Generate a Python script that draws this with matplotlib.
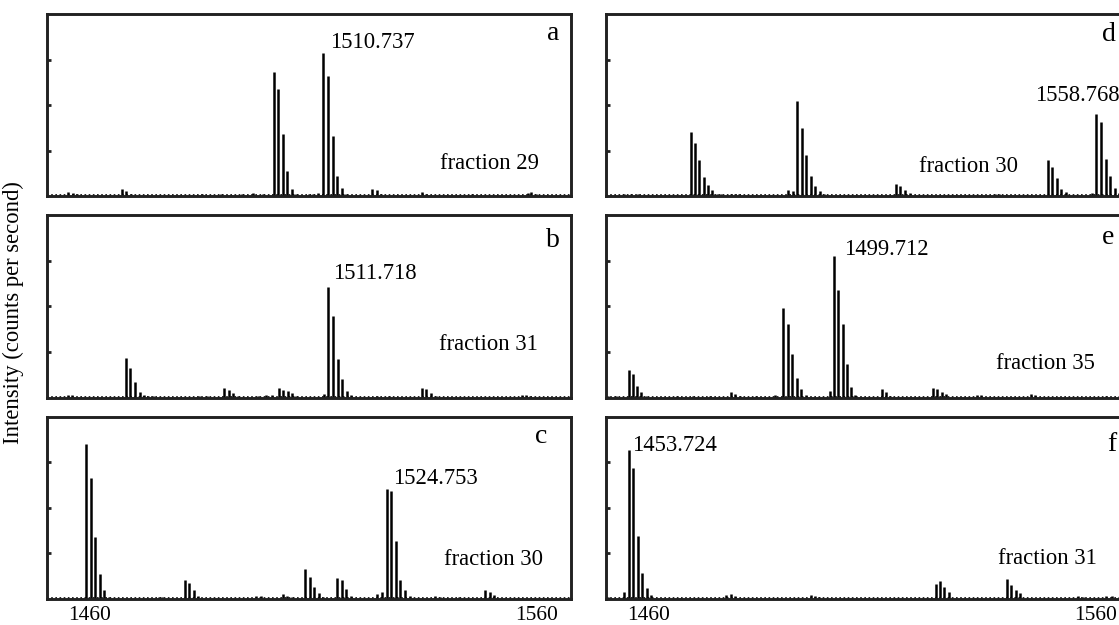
import matplotlib.pyplot as plt

plt.rcParams['font.family'] = ['Liberation Serif', 'DejaVu Serif']

# m/z and relative intensity (fraction of axis height)
a_mz = [1455.3, 1456.3, 1457.1, 1467.2, 1468.2, 1469.2, 1483.0, 1485.1, 1487.3, 1489.4,
        1491.6, 1494.2, 1496.5, 1498.7, 1501.2, 1502.2, 1503.2, 1504.2, 1505.3, 1506.3,
        1509.1, 1510.1, 1511.2, 1512.3, 1513.4, 1514.4, 1515.4, 1516.4, 1517.4, 1523.2,
        1524.3, 1525.3, 1534.3, 1535.2, 1545.6, 1558.0, 1558.8, 1559.8]
a_int = [0.025, 0.02, 0.01, 0.042, 0.03, 0.015, 0.008, 0.01, 0.008, 0.01,
         0.008, 0.012, 0.02, 0.015, 0.683, 0.589, 0.344, 0.141, 0.042, 0.015,
         0.015, 0.015, 0.02, 0.788, 0.661, 0.33, 0.109, 0.045, 0.015, 0.04,
         0.035, 0.015, 0.025, 0.015, 0.01, 0.02, 0.025, 0.01]

b_mz = [1455.2, 1456.2, 1468.1, 1469.1, 1470.1, 1471.2, 1472.2, 1473.2, 1474.3, 1484.4,
        1486.2, 1490.1, 1491.1, 1492.2, 1493.2, 1497.8, 1499.4, 1500.9, 1502.3, 1503.3,
        1504.3, 1505.3, 1506.3, 1512.4, 1513.4, 1514.5, 1515.5, 1516.5, 1517.5, 1518.5,
        1524.4, 1527.0, 1534.3, 1535.3, 1536.4, 1537.4, 1556.8, 1557.6, 1558.6]
b_int = [0.015, 0.015, 0.218, 0.164, 0.085, 0.033, 0.012, 0.008, 0.008, 0.008,
         0.008, 0.051, 0.042, 0.024, 0.01, 0.01, 0.012, 0.012, 0.055, 0.042,
         0.038, 0.024, 0.01, 0.02, 0.609, 0.445, 0.213, 0.104, 0.036, 0.012,
         0.008, 0.008, 0.055, 0.045, 0.027, 0.01, 0.012, 0.015, 0.01]

c_mz = [1451.3, 1453.5, 1456.0, 1459.3, 1460.3, 1461.3, 1462.3, 1463.3, 1464.3, 1475.5,
        1476.3, 1481.3, 1482.3, 1483.3, 1484.3, 1486.0, 1488.0, 1497.3, 1498.3, 1503.2,
        1504.2, 1505.2, 1508.2, 1509.3, 1510.3, 1511.3, 1512.3, 1515.3, 1516.4, 1517.4,
        1518.4, 1524.4, 1525.4, 1526.5, 1527.5, 1528.5, 1529.5, 1530.6, 1531.6, 1537.3,
        1538.3, 1542.7, 1548.5, 1549.5, 1550.5, 1553.0, 1556.0]
c_int = [0.008, 0.008, 0.008, 0.85, 0.663, 0.342, 0.139, 0.049, 0.012, 0.012,
         0.01, 0.103, 0.086, 0.047, 0.015, 0.008, 0.008, 0.016, 0.014, 0.025,
         0.018, 0.01, 0.166, 0.119, 0.067, 0.032, 0.012, 0.114, 0.103, 0.054,
         0.015, 0.027, 0.036, 0.604, 0.595, 0.319, 0.106, 0.047, 0.015, 0.016,
         0.012, 0.01, 0.049, 0.04, 0.02, 0.006, 0.006]

d_mz = [1454.5, 1456.1, 1457.7, 1469.4, 1470.4, 1471.3, 1472.4, 1473.4, 1474.3, 1475.3,
        1476.3, 1478.4, 1479.4, 1480.3, 1485.4, 1487.4, 1491.3, 1492.3, 1493.3, 1494.3,
        1495.3, 1496.3, 1497.3, 1498.4, 1499.3, 1508.4, 1513.1, 1515.3, 1516.3, 1517.4,
        1518.4, 1520.9, 1528.0, 1537.4, 1538.4, 1541.4, 1544.5, 1549.3, 1550.3, 1551.3,
        1552.3, 1553.3, 1559.3, 1560.2, 1561.3, 1562.3, 1563.3, 1564.3, 1565.3]
d_int = [0.01, 0.01, 0.01, 0.35, 0.295, 0.199, 0.105, 0.063, 0.034, 0.015,
         0.012, 0.015, 0.012, 0.01, 0.006, 0.006, 0.036, 0.031, 0.522, 0.377,
         0.226, 0.112, 0.054, 0.027, 0.012, 0.006, 0.006, 0.067, 0.054, 0.034,
         0.018, 0.006, 0.006, 0.015, 0.01, 0.008, 0.008, 0.201, 0.158, 0.098,
         0.038, 0.022, 0.02, 0.451, 0.408, 0.205, 0.109, 0.045, 0.02]

e_mz = [1451.0, 1452.7, 1455.6, 1456.6, 1457.5, 1458.4, 1459.4, 1466.3, 1470.0, 1473.8,
        1478.4, 1479.3, 1480.4, 1484.0, 1488.4, 1490.2, 1491.2, 1492.2, 1493.2, 1494.2,
        1495.2, 1500.5, 1501.4, 1502.4, 1503.4, 1504.4, 1505.4, 1506.3, 1512.2, 1513.1,
        1514.1, 1523.7, 1524.6, 1525.6, 1526.6, 1533.5, 1534.4, 1545.6, 1546.5, 1562.4]
e_int = [0.008, 0.008, 0.154, 0.127, 0.065, 0.033, 0.01, 0.008, 0.008, 0.008,
         0.03, 0.02, 0.01, 0.008, 0.015, 0.49, 0.403, 0.24, 0.105, 0.045,
         0.012, 0.038, 0.779, 0.588, 0.403, 0.183, 0.06, 0.015, 0.045, 0.03,
         0.01, 0.05, 0.045, 0.03, 0.02, 0.015, 0.012, 0.02, 0.012, 0.01]

f_mz = [1451.0, 1454.5, 1455.6, 1456.6, 1457.6, 1458.6, 1459.6, 1460.6, 1467.0, 1472.0,
        1477.4, 1478.4, 1479.3, 1488.0, 1496.3, 1497.3, 1498.2, 1505.3, 1508.4, 1515.0,
        1524.2, 1525.2, 1526.2, 1527.2, 1533.0, 1540.1, 1541.1, 1542.1, 1543.1, 1550.0,
        1556.1, 1557.1, 1562.4, 1563.6]
f_int = [0.01, 0.036, 0.815, 0.717, 0.344, 0.145, 0.058, 0.02, 0.008, 0.008,
         0.02, 0.025, 0.015, 0.008, 0.02, 0.015, 0.01, 0.008, 0.008, 0.008,
         0.085, 0.1, 0.067, 0.036, 0.008, 0.107, 0.076, 0.047, 0.031, 0.008,
         0.015, 0.012, 0.015, 0.015]

panel_letters = ['a', 'b', 'c', 'd', 'e', 'f']
peak_labels = ['1510.737', '1511.718', '1524.753', '1558.768', '1499.712', '1453.724']
fractions = ['fraction 29', 'fraction 31', 'fraction 30', 'fraction 30', 'fraction 35', 'fraction 31']
tick_vals = [1460, 1560]

# text anchors: (letter x, letter y, peak label x, y, fraction x, y)
text_pos = [
    (1563.8, 0.895, 1513.7, 0.846, 1538.5, 0.18),
    (1563.6, 0.86, 1514.4, 0.68, 1538.1, 0.29),
    (1561.1, 0.89, 1527.8, 0.66, 1539.4, 0.216),
    (1563.1, 0.888, 1546.4, 0.553, 1520.6, 0.163),
    (1562.8, 0.88, 1503.8, 0.81, 1537.7, 0.186),
    (1563.6, 0.85, 1456.4, 0.842, 1538.1, 0.22),
]

spectra = [(a_mz, a_int), (b_mz, b_int), (c_mz, c_int),
           (d_mz, d_int), (e_mz, e_int), (f_mz, f_int)]

fig = plt.figure(figsize=(11.19, 6.25), dpi=100)

W, H = 1119, 625
col_left = [47, 606]
ax_w = 524
row_top = [14, 215.3, 416.7]
ax_h = 182.3

for i, (mz, inten) in enumerate(spectra):
    col, row = divmod(i, 3)
    left = col_left[col] / W
    bottom = 1 - (row_top[row] + ax_h) / H
    ax = fig.add_axes([left, bottom, ax_w / W, ax_h / H])

    ax.vlines(mz, 0, inten, color='black', lw=1.8)
    ax.axhline(0.005, color='black', lw=1.2, ls=(0, (1, 1.5)))
    ax.set_xlim(1450.5, 1567.7)
    ax.set_ylim(0, 1)

    for s in ax.spines.values():
        s.set_linewidth(2.1)
        s.set_color('#222222')

    ax.set_yticks([0.25, 0.5, 0.75])
    ax.tick_params(axis='y', direction='in', length=3, width=2, labelleft=False,
                   color='#222222')
    ax.set_xticks(tick_vals)
    ax.tick_params(axis='x', length=0, pad=5, labelsize=15.5)
    if row != 2:
        ax.tick_params(axis='x', labelbottom=False)

    lx, ly, px, py, fx, fy = text_pos[i]
    ax.text(lx, ly, panel_letters[i], fontsize=20, ha='center', va='center')
    ax.text(px, py, peak_labels[i], fontsize=16.3, ha='left', va='center')
    ax.text(fx, fy, fractions[i], fontsize=16.3, ha='left', va='center')

fig.text(0.012, 0.5, 'Intensity (counts per second)', rotation=90,
         ha='center', va='center', fontsize=16.3)

fig.savefig('out.png', dpi=100)
